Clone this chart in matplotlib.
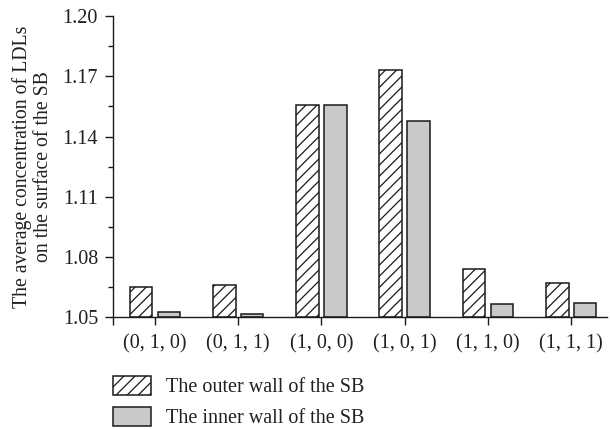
import matplotlib
matplotlib.use("Agg")
import matplotlib.pyplot as plt
from matplotlib.ticker import MultipleLocator, FixedLocator
import numpy as np

categories = ["(0, 1, 0)", "(0, 1, 1)", "(1, 0, 0)", "(1, 0, 1)", "(1, 1, 0)", "(1, 1, 1)"]
outer_wall = [1.0650, 1.0663, 1.1556, 1.1729, 1.0739, 1.0670]
inner_wall = [1.0525, 1.0515, 1.1556, 1.1479, 1.0567, 1.0570]
series_labels = ["The outer wall of the SB", "The inner wall of the SB"]
yticks = [1.05, 1.08, 1.11, 1.14, 1.17, 1.20]

plt.rcParams['font.family'] = ['Liberation Serif', 'DejaVu Serif']
plt.rcParams['hatch.linewidth'] = 0.9
txt = '#231f20'
fs = 14.5

fig = plt.figure(figsize=(6.1, 4.3), dpi=100)
W, H = 610, 430
left, right, top, bottom = 113.3, 607, 16, 317.3
ax = fig.add_axes([left / W, 1 - bottom / H, (right - left) / W, (bottom - top) / H])

x = np.arange(len(categories))
bw = 0.272
off = 0.167
ax.bar(x - off, np.array(outer_wall) - 1.05, bw, bottom=1.05, facecolor='white',
       edgecolor='#1a1a1a', linewidth=1.1, hatch='///', label=series_labels[0])
ax.bar(x + off, np.array(inner_wall) - 1.05, bw, bottom=1.05, facecolor='#c8c9ca',
       edgecolor='#1a1a1a', linewidth=1.1, label=series_labels[1])

ax.set_xlim(-0.5, 5.43)
ax.set_ylim(1.05, 1.20)
ax.set_yticks(yticks)
ax.set_yticklabels([f"{v:.2f}" for v in yticks])
ax.yaxis.set_minor_locator(MultipleLocator(0.015))
ax.set_xticks(x)
ax.set_xticklabels(categories)
ax.xaxis.set_minor_locator(FixedLocator([-0.5]))

for s in ['top', 'right']:
    ax.spines[s].set_visible(False)
for s in ['left', 'bottom']:
    ax.spines[s].set_linewidth(1.0)
    ax.spines[s].set_color('#1a1a1a')

ax.tick_params(axis='both', which='major', direction='out', length=6, width=1.0,
               colors='#1a1a1a', labelcolor=txt, labelsize=fs)
ax.tick_params(axis='y', which='minor', direction='out', length=3.5, width=1.0, colors='#1a1a1a')
ax.tick_params(axis='x', which='minor', direction='out', length=6, width=1.0, colors='#1a1a1a')
ax.tick_params(axis='x', which='major', pad=6)
ax.tick_params(axis='y', which='major', pad=5)

ax.set_ylabel("The average concentration of LDLs\non the surface of the SB",
              fontsize=14.2, color=txt, linespacing=1.15, labelpad=7)

leg = fig.legend(loc='upper left', bbox_to_anchor=(113 / W, 1 - 376 / H),
                 frameon=False, fontsize=fs, handlelength=1.9, handleheight=1.05,
                 handletextpad=0.75, labelspacing=0.5, borderpad=0, borderaxespad=0)
for t in leg.get_texts():
    t.set_color(txt)

fig.savefig("out.png", dpi=100)
